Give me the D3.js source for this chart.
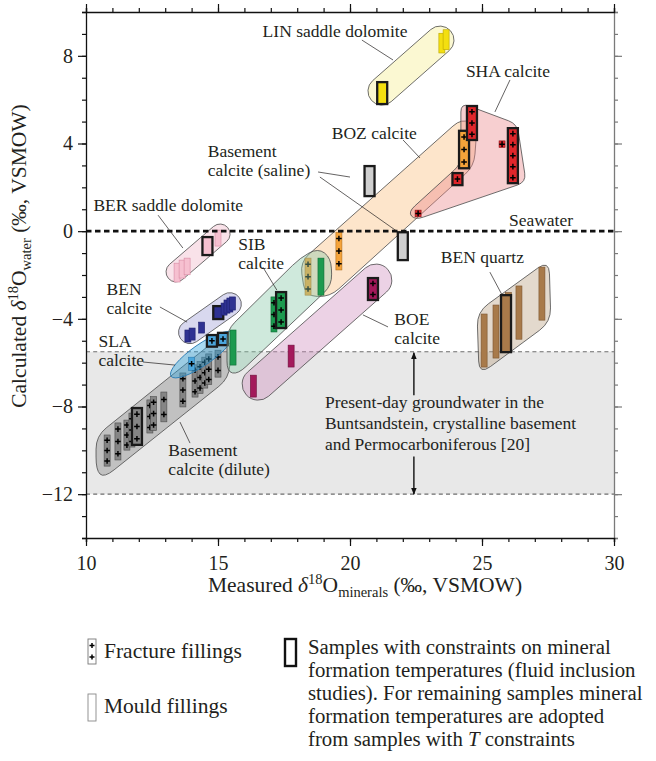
<!DOCTYPE html>
<html><head><meta charset="utf-8">
<script src="https://cdn.jsdelivr.net/npm/d3@7"></script>
<style>
body{margin:0;background:#fff;}
svg text{font-family:"Liberation Serif","Times New Roman",serif;fill:#231f20;}
</style></head><body>
<svg id="chart" width="656" height="761"></svg>
<script>
// ---- axis ticks ----
const xTickLabels=[10,15,20,25,30];
const yTickLabels=[-12,-8,-4,0,4,8];
const seawater=0;
const groundwaterRange=[-12,-5.5];

// ---- samples: [δ18O mineral, δ18O water low, δ18O water high, fill type (F fracture / M mould), T constrained] ----
const basementDilute=[
 [10.80,-10.72,-9.30,"F",0],[11.21,-10.44,-8.75,"F",0],[11.55,-9.99,-8.62,"F",0],
 [11.74,-9.85,-8.30,"F",0],[11.93,-9.75,-8.07,"F",1],[12.42,-9.21,-7.70,"F",0],
 [12.56,-9.10,-7.55,"F",0],[12.95,-8.70,-7.34,"F",0],[13.67,-8.02,-6.47,"F",0],
 [14.13,-7.57,-6.10,"F",0],[14.32,-7.40,-5.95,"F",0],[14.50,-7.16,-5.75,"F",0],
 [14.65,-7.00,-5.60,"F",0],[15.00,-6.66,-5.43,"F",0]];
const slaCalcite=[[14.00,-6.35,-5.75,"F",0],[14.77,-5.27,-4.74,"F",1],[15.19,-5.20,-4.64,"F",1]];
const benCalcite=[[13.86,-5.06,-4.51,"M",0],[14.02,-4.97,-4.42,"M",0],[14.38,-4.65,-4.15,"M",0],
 [15.01,-4.01,-3.42,"M",1],[15.23,-3.83,-3.28,"M",0],[15.34,-3.74,-3.14,"M",0],
 [15.45,-3.69,-3.05,"M",0],[15.55,-3.60,-3.00,"M",0]];
const berDolomite=[[13.45,-2.32,-1.46,"M",0],[13.64,-2.14,-1.32,"M",0],[13.83,-1.99,-1.23,"M",0],
 [14.60,-1.09,-0.27,"M",1],[15.00,-0.68,0.05,"M",0]];
const bozCalcite=[[19.58,-1.77,-0.05,"F",0],[18.41,-2.92,-1.23,"F",0],[24.32,2.87,4.58,"F",1]];
const basementSaline=[[20.74,1.60,2.97,"M",1],[22.00,-1.32,-0.05,"M",1]];
const sibCalcite=[[15.57,-6.11,-4.51,"M",0],[17.12,-4.60,-3.00,"F",0],[17.39,-4.42,-2.78,"F",1],[18.90,-2.92,-1.23,"M",0]];
const boeCalcite=[[16.34,-7.57,-6.57,"M",0],[17.77,-6.20,-5.20,"M",0],[20.87,-3.14,-2.14,"F",1]];
const benQuartz=[[25.08,-6.20,-3.78,"M",0],[25.53,-5.79,-3.37,"M",0],[26.00,-5.45,-2.80,"M",0],
 [25.91,-5.52,-2.92,"M",1],[26.40,-4.93,-2.50,"M",0],[27.27,-4.06,-1.64,"M",0]];
const shaCalcite=[[24.62,4.16,5.71,"F",1],[26.17,2.19,4.70,"F",1],[25.76,3.82,4.12,"F",0],
 [24.07,2.10,2.65,"F",1],[22.58,0.66,0.96,"F",0]];
const linDolomite=[[21.22,5.80,6.80,"M",1],[23.48,8.13,9.03,"M",0],[23.64,8.28,9.19,"M",0]];

// ---- group outlines (δ18O mineral, δ18O water) ----
const basementDiluteHull=[[10.38,-9.35],[15.15,-4.74],[15.49,-5.20],[15.42,-6.71],[10.68,-11.26],[10.38,-10.90]];
const slaEllipseTips=[[13.22,-6.62],[15.57,-4.65]];
const benCalciteAxis=[[13.94,-4.61],[15.45,-3.33]];
const berAxis=[[13.41,-1.86],[15.08,-0.13]];
const bozHull=[[18.11,-1.41],[24.24,5.16],[24.81,4.75],[24.70,2.97],[19.24,-3.00],[18.30,-2.96]];
const sibHull=[[15.34,-4.51],[18.11,-1.22],[18.79,-0.77],[19.28,-1.22],[19.32,-2.46],[15.76,-6.52],[15.34,-6.42]];
const boeAxis=[[16.52,-6.98],[20.98,-2.23]];
const benQuartzHull=[[24.81,-3.69],[27.54,-1.31],[27.61,-4.14],[24.89,-6.56]];
const shaHull=[[24.20,5.85],[26.33,4.89],[26.67,2.24],[22.46,0.51],[22.20,0.87],[24.20,3.06]];
const linAxis=[[21.21,6.39],[23.41,8.72]];

// ---- annotations: text lines and anchor (δ18O mineral, δ18O water of first baseline) ----
const labelText=[
 ["LIN saddle dolomite"],["SHA calcite"],["BOZ calcite"],["Basement","calcite (saline)"],
 ["Seawater"],["BER saddle dolomite"],["SIB","calcite"],["BEN","calcite"],["SLA","calcite"],
 ["BOE","calcite"],["BEN quartz"],["Basement","calcite (dilute)"],
 ["Present-day groundwater in the","Buntsandstein, crystalline basement","and Permocarboniferous [20]"]];
const labelAnchor=[
 [16.69,8.86],[24.39,7.05],[19.31,4.19],[14.61,3.39],
 [26.02,0.23],[10.28,0.93],[15.77,-0.86],[10.78,-2.92],[10.47,-5.30],
 [21.68,-4.28],[23.44,-1.47],[13.12,-10.26],
 [19.05,-8.07]];
const leaderLines=[
 [20.45,8.72,21.63,7.81],[26.06,6.90,25.49,5.44],[22.01,4.16,22.65,3.34],
 [18.79,2.70,20.00,2.47],[18.86,2.47,21.82,-0.04],[12.73,0.73,13.67,-0.77],
 [16.70,-1.64,17.23,-2.69],[12.80,-3.46,13.83,-4.15],[12.16,-5.97,13.37,-6.11],
 [20.49,-3.82,21.44,-4.37],[25.30,-1.87,25.76,-2.91],[13.56,-8.71,13.94,-9.67]];
const groundwaterArrows=[[22.42,-7.49,-5.55],[22.42,-10.28,-12.0]];

// ---- scales ----
const x=d3.scaleLinear().domain([10,30]).range([86,614]);
const y=d3.scaleLinear().domain([-14,10]).range([538,12]);
const svg=d3.select("#chart");

// base colour that gives the listed tint on white at opacity a
function tint(hex,a){const c=d3.rgb(hex);const f=v=>Math.max(0,Math.min(255,Math.round((v-255*(1-a))/a)));return `rgba(${f(c.r)},${f(c.g)},${f(c.b)},${a})`;}

const styles={
 basementDilute:{env:"#cfcfcf",bar:"#858585",line:"#4d4d4d"},
 sla:{env:"#a9daf2",bar:"#4ba6dc",line:"#2b79ad"},
 benCalcite:{env:"#d8d8ef",bar:"#2e3192",line:"#1d1f6e"},
 ber:{env:"#f9e2e9",bar:"#f6c0d0",line:"#d88aa3"},
 boz:{env:"#fde5cb",bar:"#f5a33a",line:"#b4701c"},
 saline:{bar:"#cfcfcf",line:"#666"},
 sib:{env:"#cfe9dc",bar:"#1c9a4f",line:"#0f6b35"},
 boe:{env:"#ecd2e5",bar:"#a3195b",line:"#6e0f3c"},
 benQuartz:{env:"#e3d9cd",bar:"#a87a4a",line:"#7b5530"},
 sha:{env:"#f7cfd0",bar:"#e0262b",line:"#8a1417"},
 lin:{env:"#fbf8d2",bar:"#f3df10",line:"#b9a500"}
};
const envAlpha=0.4;

// ---- background band and reference lines ----
svg.append("rect").attr("x",x(10)).attr("width",x(30)-x(10))
 .attr("y",y(groundwaterRange[1])).attr("height",y(groundwaterRange[0])-y(groundwaterRange[1]))
 .attr("fill","#e8e8e8");
groundwaterRange.forEach(v=>svg.append("line").attr("x1",x(10)).attr("x2",x(30)).attr("y1",y(v)).attr("y2",y(v))
 .attr("stroke","#6d6d6d").attr("stroke-width",1.1).attr("stroke-dasharray","4,3.2"));

// ---- outline shapes ----
function roundedPoly(pts,r){
 const P=pts.map(p=>[x(p[0]),y(p[1])]);const n=P.length;let d="";
 for(let i=0;i<n;i++){
  const p0=P[(i-1+n)%n],p1=P[i],p2=P[(i+1)%n];
  const l1=Math.hypot(p0[0]-p1[0],p0[1]-p1[1]),l2=Math.hypot(p2[0]-p1[0],p2[1]-p1[1]);
  const d1=Math.min(r,l1/2),d2=Math.min(r,l2/2);
  const a=[p1[0]+(p0[0]-p1[0])/l1*d1,p1[1]+(p0[1]-p1[1])/l1*d1];
  const b=[p1[0]+(p2[0]-p1[0])/l2*d2,p1[1]+(p2[1]-p1[1])/l2*d2];
  d+=(i===0?"M":"L")+a[0]+","+a[1]+"Q"+p1[0]+","+p1[1]+" "+b[0]+","+b[1];
 }
 return d+"Z";
}
function capsule(ends,r){
 const a=[x(ends[0][0]),y(ends[0][1])],b=[x(ends[1][0]),y(ends[1][1])];
 const L=Math.hypot(b[0]-a[0],b[1]-a[1]);const dx=(b[0]-a[0])/L,dy=(b[1]-a[1])/L;const nx=-dy*r,ny=dx*r;
 return `M${a[0]+nx},${a[1]+ny}L${b[0]+nx},${b[1]+ny}A${r},${r} 0 0 0 ${b[0]-nx},${b[1]-ny}L${a[0]-nx},${a[1]-ny}A${r},${r} 0 0 0 ${a[0]+nx},${a[1]+ny}Z`;
}
function envelope(g,d,st){
 g.append("path").attr("d",d).attr("fill",tint(st.env,envAlpha)).attr("stroke","#4a4a4a").attr("stroke-width",0.8);
}

// ---- sample bars ----
function bars(g,data,st){
 data.forEach(([xv,lo,hi,type,T])=>{
  const w=T?10:6,cx=x(xv),y0=y(hi),y1=y(lo),h=y1-y0;
  g.append("rect").attr("x",cx-w/2).attr("y",y0).attr("width",w).attr("height",h)
   .attr("fill",st.bar).attr("stroke",T?"#1a1a1a":st.line).attr("stroke-width",T?2.3:0.6);
  if(type==="F"){
   const n=Math.max(1,Math.round(h/12));
   for(let i=0;i<n;i++){
    const cy=y0+(i+0.5)*h/n;
    g.append("path").attr("d",`M${cx-2.8},${cy}H${cx+2.8}M${cx},${cy-2.8}V${cy+2.8}`)
     .attr("stroke","#000").attr("stroke-width",1.5);
   }
  }
 });
}

const G=()=>svg.append("g");
let g;
g=G();envelope(g,roundedPoly(basementDiluteHull,13),styles.basementDilute);bars(g,basementDilute,styles.basementDilute);
g=G();{
 const a=[x(slaEllipseTips[0][0]),y(slaEllipseTips[0][1])],b=[x(slaEllipseTips[1][0]),y(slaEllipseTips[1][1])];
 const cx=(a[0]+b[0])/2,cy=(a[1]+b[1])/2,rx=Math.hypot(b[0]-a[0],b[1]-a[1])/2,ang=Math.atan2(b[1]-a[1],b[0]-a[0])*180/Math.PI;
 g.append("ellipse").attr("cx",0).attr("cy",0).attr("rx",rx).attr("ry",10.5)
  .attr("transform",`translate(${cx},${cy}) rotate(${ang})`)
  .attr("fill",tint(styles.sla.env,envAlpha)).attr("stroke","#2f7fb5").attr("stroke-width",0.9);
 bars(g,slaCalcite,styles.sla);
}
g=G();envelope(g,capsule(benCalciteAxis,11.5),styles.benCalcite);bars(g,benCalcite,styles.benCalcite);
g=G();envelope(g,capsule(berAxis,10),styles.ber);bars(g,berDolomite,styles.ber);
g=G();envelope(g,roundedPoly(bozHull,12),styles.boz);envelope(g,roundedPoly(shaHull,9),styles.sha);
bars(g,bozCalcite,styles.boz);bars(g,basementSaline,styles.saline);bars(g,shaCalcite,styles.sha);
g=G();envelope(g,roundedPoly(sibHull,11),styles.sib);bars(g,sibCalcite,styles.sib);
g=G();envelope(g,capsule(boeAxis,16),styles.boe);bars(g,boeCalcite,styles.boe);
g=G();envelope(g,roundedPoly(benQuartzHull,14),styles.benQuartz);bars(g,benQuartz,styles.benQuartz);
g=G();envelope(g,capsule(linAxis,14),styles.lin);bars(g,linDolomite,styles.lin);

// seawater reference
svg.append("line").attr("x1",x(10)).attr("x2",x(30)).attr("y1",y(seawater)).attr("y2",y(seawater))
 .attr("stroke","#111").attr("stroke-width",2.6).attr("stroke-dasharray","5.5,3.5");

// ---- annotations ----
leaderLines.forEach(([a,b,c,d])=>svg.append("line").attr("x1",x(a)).attr("y1",y(b)).attr("x2",x(c)).attr("y2",y(d))
 .attr("stroke","#231f20").attr("stroke-width",0.7));
labelText.forEach((lines,i)=>{
 const [ax,ay]=labelAnchor[i];
 const t=svg.append("text").attr("x",x(ax)).attr("y",y(ay)).attr("font-size",17.5);
 lines.forEach((s,j)=>t.append("tspan").attr("x",x(ax)).attr("dy",j===0?0:(i===12?21:19)).text(s));
});
const defs=svg.append("defs");
defs.append("marker").attr("id","ah").attr("viewBox","0 0 10 10").attr("refX",9).attr("refY",5)
 .attr("markerWidth",7).attr("markerHeight",9).attr("markerUnits","userSpaceOnUse").attr("orient","auto")
 .append("path").attr("d","M0,1L10,5L0,9Z").attr("fill","#111");
groundwaterArrows.forEach(([xv,from,to])=>svg.append("line").attr("x1",x(xv)).attr("x2",x(xv))
 .attr("y1",y(from)).attr("y2",y(to)).attr("stroke","#111").attr("stroke-width",1.4).attr("marker-end","url(#ah)"));

// ---- axes ----
const yMinor=d3.range(-14,11,1),xMinor=d3.range(10,31,1);
function axisSet(axisFn,scale,pos,minor,major,labels,color){
 const gMin=svg.append("g").attr("transform",pos).call(axisFn(scale).tickValues(minor).tickSize(4).tickFormat(""));
 const gMaj=svg.append("g").attr("transform",pos).call(axisFn(scale).tickValues(major).tickSize(8).tickPadding(labels==="x"?10:5)
  .tickFormat(labels?d3.format("d"):""));
 [gMin,gMaj].forEach(a=>{a.selectAll("path").attr("stroke",color).attr("stroke-width",1.3);
  a.selectAll("line").attr("stroke",color).attr("stroke-width",1.2);
  a.selectAll("text").attr("font-size",20).attr("font-family",'"Liberation Serif",serif').attr("fill","#231f20");});
 gMaj.select(".domain").remove();
}
axisSet(d3.axisLeft,y,`translate(${x(10)},0)`,yMinor,yTickLabels,"y","#111");
axisSet(d3.axisRight,y,`translate(${x(30)},0)`,yMinor,yTickLabels,false,"#7a7a7a");
axisSet(d3.axisTop,x,`translate(0,${y(10)})`,xMinor,xTickLabels,false,"#111");
axisSet(d3.axisBottom,x,`translate(0,${y(-14)})`,xMinor,xTickLabels,"x","#111");

// axis titles
function title(sel,sub){
 sel.append("tspan").text(sub[0]);
 sel.append("tspan").attr("font-style","italic").text("δ");
 sel.append("tspan").attr("font-size",14.5).attr("dy",-8).text("18");
 sel.append("tspan").attr("dy",8).text("O");
 sel.append("tspan").attr("font-size",14.5).attr("dy",5).text(sub[1]);
 sel.append("tspan").attr("dy",-5).text(" (‰, VSMOW)");
}
title(svg.append("text").attr("x",365).attr("y",592).attr("text-anchor","middle").attr("font-size",21.5),["Measured ","minerals"]);
title(svg.append("text").attr("transform","translate(26,256) rotate(-90)").attr("text-anchor","middle").attr("font-size",21.5),["Calculated ","water"]);

// ---- legend ----
const lg=svg.append("g");
lg.append("rect").attr("x",88).attr("y",639).attr("width",8).attr("height",25).attr("fill","#fff").attr("stroke","#777").attr("stroke-width",0.9);
[645.5,657].forEach(cy=>lg.append("path").attr("d",`M${89.5},${cy}H${94.5}M92,${cy-2.6}V${cy+2.6}`).attr("stroke","#000").attr("stroke-width",1.5));
lg.append("text").attr("x",104).attr("y",658).attr("font-size",21.5).text("Fracture fillings");
lg.append("rect").attr("x",88).attr("y",694).attr("width",8).attr("height",27).attr("fill","#fff").attr("stroke","#888").attr("stroke-width",0.9);
lg.append("text").attr("x",104).attr("y",713).attr("font-size",21.5).text("Mould fillings");
lg.append("rect").attr("x",285).attr("y",639).attr("width",11).attr("height",27).attr("fill","#fff").attr("stroke","#111").attr("stroke-width",2.4);
const lt=lg.append("text").attr("font-size",20.8);
["Samples with constraints on mineral","formation temperatures (fluid inclusion","studies). For remaining samples mineral","formation temperatures are adopted"]
 .forEach((s,i)=>lt.append("tspan").attr("x",308).attr("y",654+i*23).text(s));
const last=lt.append("tspan").attr("x",308).attr("y",654+4*23);
last.append("tspan").text("from samples with ");
last.append("tspan").attr("font-style","italic").text("T");
last.append("tspan").text(" constraints");
</script>
</body></html>
